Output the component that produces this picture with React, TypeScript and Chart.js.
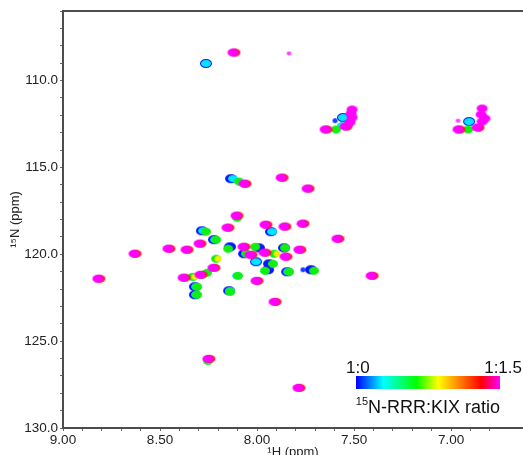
import React, { useEffect, useRef } from "react";
import { Chart, registerables } from "chart.js";

Chart.register(...registerables);

const FONT = "'Liberation Sans', Arial, 'DejaVu Sans', sans-serif";

// Titration ratios (15N-RRR : KIX)
const seriesLabels = ["1:0", "1:0.25", "1:0.5", "1:0.75", "1:1", "1:1.5"];

// Peak positions [1H ppm, 15N ppm] per titration point
const ratio0: [number, number][] = [
  [8.263, 109.02], [8.134, 115.65], [8.284, 118.65], [7.928, 118.7], [8.222, 119.16],
  [8.139, 119.57], [7.99, 119.63], [7.861, 119.63], [8.067, 119.97], [8.005, 120.43],
  [7.938, 120.55], [7.943, 120.89], [7.845, 121.01], [7.722, 120.89], [8.32, 122.33],
  [8.144, 122.1], [8.32, 121.87], [7.557, 112.13], [6.907, 112.36],
];
const ratio0Weak: [number, number][] = [[7.763, 120.89], [7.598, 112.31]];

const ratio025: [number, number][] = [
  [8.263, 109.02], [8.124, 115.65], [8.278, 118.65], [7.923, 118.7], [8.216, 119.16],
  [8.005, 120.43], [7.84, 121.01], [8.335, 121.3], [8.103, 121.24], [8.314, 121.87],
  [8.314, 122.33], [8.139, 122.1], [7.557, 112.13], [7.562, 112.59], [6.907, 112.36],
];

const ratio05: [number, number][] = [
  [8.093, 115.82], [8.103, 117.9], [8.263, 118.7], [8.211, 119.16], [8.149, 119.68],
  [8.01, 119.57], [7.856, 119.63], [8.057, 119.97], [7.912, 119.97], [8.211, 120.26],
  [7.918, 120.55], [7.959, 120.95], [7.835, 121.01], [7.706, 120.95], [8.258, 121.07],
  [8.33, 121.3], [8.098, 121.24], [8.309, 121.87], [8.309, 122.33], [8.139, 122.16],
  [8.253, 126.14], [7.593, 112.82], [6.912, 112.82],
];

const ratio075: [number, number][] = [[7.897, 119.97], [8.201, 120.26], [8.32, 121.3]];

const ratio1: [number, number][] = [
  [8.114, 108.39], [7.639, 112.82], [7.536, 112.65], [6.954, 112.82], [6.856, 112.71],
  [8.057, 115.94], [7.866, 115.59], [7.732, 116.22], [8.098, 117.78], [7.949, 118.3],
  [7.851, 118.41], [7.758, 118.24], [8.145, 118.47], [7.578, 119.11], [8.289, 119.39],
  [8.449, 119.68], [8.356, 119.74], [8.062, 119.57], [7.774, 119.74], [8.026, 120.03],
  [7.954, 119.91], [7.846, 120.14], [8.217, 120.78], [8.371, 121.35], [8.284, 121.18],
  [7.995, 121.53], [7.902, 122.74], [8.81, 121.41], [8.624, 119.97], [7.402, 121.24],
  [8.243, 126.02], [7.779, 127.69],
];

const ratio15: [number, number][] = [
  [8.124, 108.39], [7.649, 112.82], [7.546, 112.65], [7.521, 112.42], [7.51, 112.13],
  [7.515, 111.9], [7.51, 111.67], [6.964, 112.82], [6.866, 112.71], [6.84, 112.36],
  [6.845, 111.96], [6.84, 111.61], [6.825, 112.19], [8.067, 115.94], [7.876, 115.59],
  [7.742, 116.22], [8.108, 117.78], [7.959, 118.3], [7.861, 118.41], [7.768, 118.24],
  [8.155, 118.47], [7.588, 119.11], [8.299, 119.39], [8.459, 119.68], [8.366, 119.74],
  [8.072, 119.57], [7.784, 119.74], [8.036, 120.03], [7.964, 119.91], [7.856, 120.14],
  [8.227, 120.78], [8.381, 121.35], [8.294, 121.18], [8.005, 121.53], [7.912, 122.74],
  [8.82, 121.41], [8.634, 119.97], [7.412, 121.24], [8.253, 126.02], [7.789, 127.69],
];
const ratio15Weak: [number, number][] = [[7.835, 108.44], [6.964, 112.31]];

const xTickLabels = ["9.00", "8.50", "8.00", "7.50", "7.00"];
const yTickLabels = ["110.0", "115.0", "120.0", "125.0", "130.0"];
const xRange = [6.629, 9.0];
const yRange = [106, 130];

const colorbarEnds = ["1:0", "1:1.5"];
const colorbarStops: [number, string][] = [
  [0, "#0000ff"], [0.19, "#00ffff"], [0.42, "#00ff00"], [0.57, "#ffff00"],
  [0.87, "#ff0000"], [1, "#ff00ff"],
];

function ellipse(color: string, w: number, h: number): HTMLCanvasElement {
  const c = document.createElement("canvas");
  c.width = w + 2;
  c.height = h + 2;
  const g = c.getContext("2d")!;
  g.fillStyle = color;
  g.beginPath();
  g.ellipse(c.width / 2, c.height / 2, w / 2, h / 2, 0, 0, Math.PI * 2);
  g.fill();
  return c;
}

const framePlugin = {
  id: "frame",
  afterDraw(chart: any) {
    const { ctx, chartArea: a } = chart;
    ctx.save();
    ctx.strokeStyle = "#4d4d4d";
    ctx.lineWidth = 2;
    ctx.beginPath();
    ctx.moveTo(a.left - 1, a.top);
    ctx.lineTo(chart.width, a.top);
    ctx.stroke();

    // colour bar
    const bx = 356, by = 376, bw = 144, bh = 13;
    const grad = ctx.createLinearGradient(bx, 0, bx + bw, 0);
    colorbarStops.forEach(([o, c]) => grad.addColorStop(o, c));
    ctx.fillStyle = grad;
    ctx.fillRect(bx, by, bw, bh);

    ctx.fillStyle = "#111";
    ctx.font = `17px ${FONT}`;
    ctx.textBaseline = "alphabetic";
    ctx.textAlign = "left";
    ctx.fillText(colorbarEnds[0], 346, 373);
    ctx.textAlign = "right";
    ctx.fillText(colorbarEnds[1], 522, 373);

    ctx.textAlign = "left";
    const sup = "15";
    ctx.font = `18px ${FONT}`;
    const main = "N-RRR:KIX ratio";
    const mw = ctx.measureText(main).width;
    ctx.font = `11px ${FONT}`;
    const sw = ctx.measureText(sup).width;
    const total = sw + mw;
    const sx = 428 - total / 2;
    ctx.fillText(sup, sx, 405);
    ctx.font = `18px ${FONT}`;
    ctx.fillText(main, sx + sw, 413);
    ctx.restore();
  },
};

export default function App() {
  const ref = useRef<HTMLCanvasElement | null>(null);

  useEffect(() => {
    if (!ref.current) return;
    const blue = ellipse("#0a14ff", 12, 9);
    const blueWeak = ellipse("#1a3cff", 5, 5);
    const cyan = ellipse("#00e6ff", 10, 7);
    const green = ellipse("#10f010", 10, 8);
    const yellow = ellipse("#f2f000", 7, 6);
    const red = ellipse("#ff1a1a", 11, 8);
    const magenta = ellipse("#ff00ff", 11, 8);
    const magentaWeak = ellipse("#ff40ff", 5, 4);

    const ds = (label: string, data: [number, number][], style: HTMLCanvasElement) => ({
      label,
      data,
      pointStyle: style,
      pointRadius: 5,
      showLine: false,
    });

    const chart = new Chart(ref.current, {
      type: "scatter",
      data: {
        datasets: [
          ds(seriesLabels[5], ratio15, magenta),
          ds(seriesLabels[5], ratio15Weak, magentaWeak),
          ds(seriesLabels[4], ratio1, red),
          ds(seriesLabels[3], ratio075, yellow),
          ds(seriesLabels[2], ratio05, green),
          ds(seriesLabels[1], ratio025, cyan),
          ds(seriesLabels[0], ratio0, blue),
          ds(seriesLabels[0], ratio0Weak, blueWeak),
        ] as any,
      },
      options: {
        animation: false,
        responsive: false,
        layout: { autoPadding: false, padding: { top: 11, left: 0, right: 0, bottom: 0 } },
        plugins: { legend: { display: false }, tooltip: { enabled: false } },
        scales: {
          x: {
            type: "linear",
            reverse: true,
            min: xRange[0],
            max: xRange[1],
            afterFit: (s: any) => {
              s.height = 42;
              s.paddingRight = 0;
              s.paddingLeft = 0;
            },
            border: { display: true, color: "#4d4d4d", width: 2 },
            grid: { drawOnChartArea: false, drawTicks: true, tickLength: 3, color: "#666" },
            ticks: {
              stepSize: 0.1,
              autoSkip: false,
              maxRotation: 0,
              padding: 1,
              color: "#222",
              font: { family: FONT, size: 13.5 },
              callback: (v: any) => {
                const s = Number(v).toFixed(2);
                return xTickLabels.includes(s) ? s : "";
              },
            },
            title: {
              display: true,
              text: "¹H (ppm)",
              color: "#222",
              font: { family: FONT, size: 13 },
              padding: { top: 0, bottom: 10 },
            },
          },
          y: {
            type: "linear",
            reverse: true,
            min: yRange[0],
            max: yRange[1],
            afterFit: (s: any) => {
              s.width = 63;
              s.paddingTop = 0;
              s.paddingBottom = 0;
            },
            border: { display: true, color: "#4d4d4d", width: 2 },
            grid: { drawOnChartArea: false, drawTicks: true, tickLength: 3, color: "#666" },
            ticks: {
              stepSize: 1,
              autoSkip: false,
              padding: 2,
              color: "#222",
              font: { family: FONT, size: 13.5 },
              callback: (v: any) => {
                const s = Number(v).toFixed(1);
                return yTickLabels.includes(s) ? s : "";
              },
            },
            title: {
              display: true,
              text: "¹⁵N (ppm)",
              color: "#222",
              font: { family: FONT, size: 13 },
              padding: { top: 8, bottom: 0 },
            },
          },
        },
      },
      plugins: [framePlugin],
    });
    return () => chart.destroy();
  }, []);

  return (
    <div style={{ position: "fixed", left: 0, top: 0, width: 523, height: 470, background: "#fff" }}>
      <canvas ref={ref} width={523} height={470} style={{ display: "block" }} />
    </div>
  );
}
